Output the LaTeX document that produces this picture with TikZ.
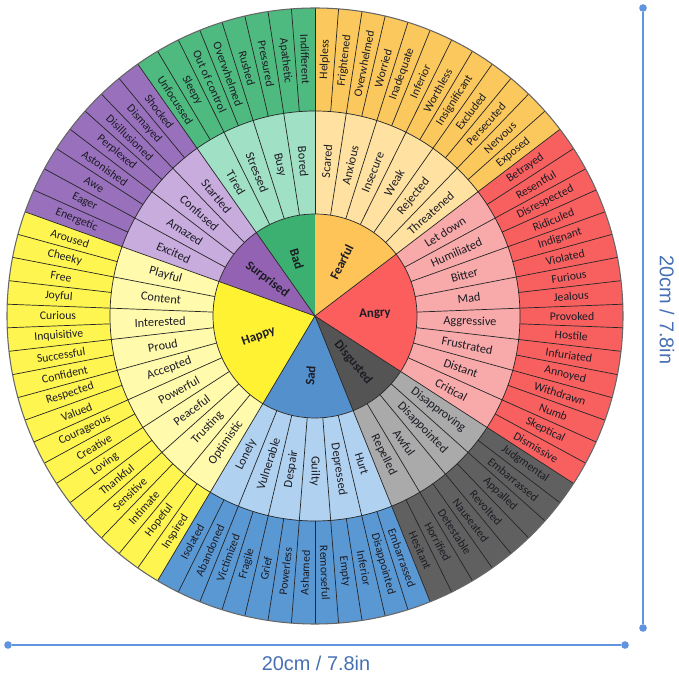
\documentclass[tikz,border=0pt]{standalone}
\usepackage{fontspec}
\usepackage{tikz}
\setmainfont{Carlito}
\newfontfamily\dimfont{Liberation Sans}
\definecolor{badcore}{RGB}{60, 176, 112}
\definecolor{badmid}{RGB}{160, 224, 196}
\definecolor{badout}{RGB}{78, 186, 128}
\definecolor{surcore}{RGB}{148, 98, 178}
\definecolor{surmid}{RGB}{200, 172, 222}
\definecolor{surout}{RGB}{152, 112, 188}
\definecolor{hapcore}{RGB}{255, 242, 50}
\definecolor{hapmid}{RGB}{255, 250, 172}
\definecolor{hapout}{RGB}{255, 245, 80}
\definecolor{sadcore}{RGB}{84, 144, 204}
\definecolor{sadmid}{RGB}{176, 210, 240}
\definecolor{sadout}{RGB}{90, 152, 212}
\definecolor{discore}{RGB}{84, 84, 84}
\definecolor{dismid}{RGB}{170, 170, 170}
\definecolor{disout}{RGB}{96, 96, 96}
\definecolor{angcore}{RGB}{252, 94, 94}
\definecolor{angmid}{RGB}{248, 170, 170}
\definecolor{angout}{RGB}{248, 96, 96}
\definecolor{fearcore}{RGB}{255, 196, 88}
\definecolor{fearmid}{RGB}{255, 226, 162}
\definecolor{fearout}{RGB}{250, 200, 92}
\definecolor{dimblue}{RGB}{96, 148, 222}
\definecolor{dimtext}{RGB}{70, 112, 178}
\definecolor{ink}{RGB}{28, 28, 36}

\begin{document}
\begin{tikzpicture}[
    x=0.03cm, y=0.03cm,
    word/.style={font=\fontsize{10}{12}\selectfont, text=ink, inner sep=0pt},
    midword/.style={font=\fontsize{10.5}{12}\selectfont, text=ink, inner sep=0pt},
    core/.style={font=\fontsize{11}{13}\selectfont\bfseries, text=ink, inner sep=0pt},
    sep/.style={draw=black!85, line width=0.6pt},
    rim/.style={draw=black!60, line width=0.9pt},
    dimline/.style={draw=dimblue, line width=1.1pt},
    dimdot/.style={circle, fill=dimblue, inner sep=0pt, minimum size=6.5pt},
    dimlabel/.style={font=\dimfont\fontsize{17}{20}\selectfont, text=dimtext}
]
    \useasboundingbox (0,0) rectangle (679,673);
    \pgfmathsetmacro\da{360/82}
    \def\rin{102}
    \def\rmid{205}
    \def\rout{308}

    % Wheel
    \begin{scope}[shift={(315,357)}]
    % Sectors: first slot / slots / colours / name
    \foreach \first/\n/\cc/\mc/\oc/\name in {0/8/badcore/badmid/badout/Bad,
        8/8/surcore/surmid/surout/Surprised, 16/18/hapcore/hapmid/hapout/Happy,
        34/12/sadcore/sadmid/sadout/Sad, 46/8/discore/dismid/disout/Disgusted,
        54/16/angcore/angmid/angout/Angry, 70/12/fearcore/fearmid/fearout/Fearful}
    {
        \pgfmathsetmacro\aa{90+\first*\da}
        \pgfmathsetmacro\ab{90+(\first+\n)*\da}
        \fill[\cc] (0,0) -- (\aa:\rin) arc[start angle=\aa, end angle=\ab, radius=\rin] -- cycle;
        \fill[\mc] (\aa:\rin) arc[start angle=\aa, end angle=\ab, radius=\rin]
            -- (\ab:\rmid) arc[start angle=\ab, end angle=\aa, radius=\rmid] -- cycle;
        \fill[\oc] (\aa:\rmid) arc[start angle=\aa, end angle=\ab, radius=\rmid]
            -- (\ab:\rout) arc[start angle=\ab, end angle=\aa, radius=\rout] -- cycle;
        \draw[sep] (0,0) -- (\aa:\rin);
        \pgfmathsetmacro\ac{90+(\first+\n/2)*\da}
        \pgfmathsetmacro\rot{ifthenelse(\ac<269.5, \ac-180, \ac-360)}
        \node[core, rotate=\rot] (core-\name) at (\ac:60) {\name};
    }

    % Slot lines
    \foreach \k in {0,...,81} {
        \pgfmathsetmacro\ang{90+\k*\da}
        \draw[sep] (\ang:\rmid) -- (\ang:\rout);
    }
    \foreach \k in {0,2,...,80} {
        \pgfmathsetmacro\ang{90+\k*\da}
        \draw[sep] (\ang:\rin) -- (\ang:\rmid);
    }

    % Rings
    \draw[sep] (0,0) circle[radius=\rin];
    \draw[sep] (0,0) circle[radius=\rmid];
    \draw[rim] (0,0) circle[radius=\rout];

    % Middle ring words
    \foreach \w [count=\k from 0] in {Bored, Busy, Stressed, Tired,
        Startled, Confused, Amazed, Excited,
        Playful, Content, Interested, Proud, Accepted, Powerful, Peaceful, Trusting, Optimistic,
        Lonely, Vulnerable, Despair, Guilty, Depressed, Hurt,
        Repelled, Awful, Disappointed, Disapproving,
        Critical, Distant, Frustrated, Aggressive, Mad, Bitter, Humiliated, Let down,
        Threatened, Rejected, Weak, Insecure, Anxious, Scared}
    {
        \pgfmathsetmacro\ang{90+(2*\k+1)*\da}
        \pgfmathsetmacro\rot{ifthenelse(\ang<269.5, \ang-180, \ang-360)}
        \node[midword, rotate=\rot] (mid-\k) at (\ang:155) {\w};
    }

    % Outer ring words
    \foreach \w [count=\k from 0] in {Indifferent, Apathetic, Pressured, Rushed, Overwhelmed, Out of control, Sleepy, Unfocussed,
        Shocked, Dismayed, Disillusioned, Perplexed, Astonished, Awe, Eager, Energetic,
        Aroused, Cheeky, Free, Joyful, Curious, Inquisitive, Successful, Confident, Respected,
        Valued, Courageous, Creative, Loving, Thankful, Sensitive, Intimate, Hopeful, Inspired,
        Isolated, Abandoned, Victimized, Fragile, Grief, Powerless, Ashamed, Remorseful,
        Empty, Inferior, Disappointed, Embarrassed,
        Hesitant, Horrified, Detestable, Nauseated, Revolted, Appalled, Embarrassed, Judgmental,
        Dismissive, Skeptical, Numb, Withdrawn, Annoyed, Infuriated, Hostile, Provoked,
        Jealous, Furious, Violated, Indignant, Ridiculed, Disrespected, Resentful, Betrayed,
        Exposed, Nervous, Persecuted, Excluded, Insignificant, Worthless, Inferior, Inadequate,
        Worried, Overwhelmed, Frightened, Helpless}
    {
        \pgfmathsetmacro\ang{90+(\k+0.5)*\da}
        \pgfmathsetmacro\rot{ifthenelse(\ang<269.5, \ang-180, \ang-360)}
        \node[word, rotate=\rot] (out-\k) at (\ang:257) {\w};
    }
    \end{scope}

    % Size marks
    \node[dimdot] (hleft) at (8,28) {};
    \node[dimdot] (hright) at (625,28) {};
    \draw[dimline] (hleft) -- (hright);
    \node[dimlabel] (hsize) at (316,10) {20cm / 7.8in};

    \node[dimdot] (vtop) at (643,665) {};
    \node[dimdot] (vbottom) at (643,45) {};
    \draw[dimline] (vtop) -- (vbottom);
    \node[dimlabel, rotate=-90] (vsize) at (667,363) {20cm / 7.8in};
\end{tikzpicture}
\end{document}
